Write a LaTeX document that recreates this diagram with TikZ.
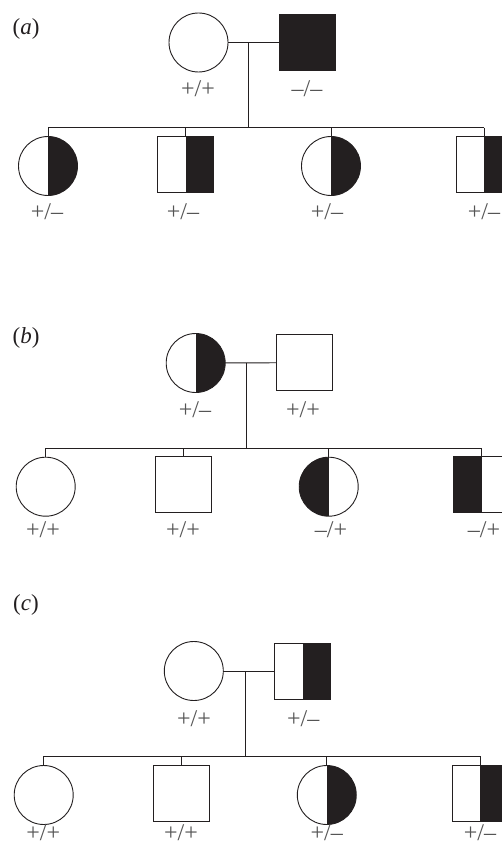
\documentclass[tikz,border=0pt]{standalone}
\usepackage{fontspec}
\setmainfont{Liberation Serif}
\definecolor{ink}{HTML}{231F20}
\definecolor{lab}{HTML}{555555}
\tikzset{
  fem/.style={circle,draw=ink,line width=0.9pt,inner sep=0pt,outer sep=0pt,minimum size=59pt,fill=white},
  mal/.style={rectangle,draw=ink,line width=0.9pt,inner sep=0pt,outer sep=0pt,minimum size=56pt,fill=white},
  full/.style={fill=ink},
  rhalf/.style={path picture={\fill[ink] (path picture bounding box.north) rectangle (path picture bounding box.south east);}},
  lhalf/.style={path picture={\fill[ink] (path picture bounding box.north west) rectangle (path picture bounding box.south);}},
  gt/.style={text=lab,font=\fontsize{24}{24}\selectfont,inner sep=0pt},
  pl/.style={font=\fontsize{23}{23}\selectfont,inner sep=0pt,text=ink},
  ln/.style={draw=ink,line width=0.9pt}
}
\begin{document}
\begin{tikzpicture}[x=1pt,y=-1pt]
\useasboundingbox[fill=white] (0,0) rectangle (502,845);
% ---------- (a)
\node[pl] (la) at (26,29) {(\textit{a})};
\node[fem] (am) at (198.5,42.5) {};
\node[mal,full] (af) at (307,42.5) {};
\node[gt] (aml) at (198,89) {+/+};
\node[gt] (afl) at (307,89) {–/–};
\coordinate (ad) at (248.7,42.5);
\coordinate (as1) at (48,127.7);
\coordinate (as2) at (185.8,127.7);
\coordinate (as3) at (331,127.7);
\coordinate (as4) at (484,127.7);
\node[fem,rhalf] (ac1) at (48,166) {};
\node[mal,rhalf] (ac2) at (185.8,164.5) {};
\node[fem,rhalf] (ac3) at (331,166) {};
\node[mal,rhalf] (ac4) at (484,164.5) {};
\node[gt] (ac1l) at (47,212) {+/–};
\node[gt] (ac2l) at (183,212) {+/–};
\node[gt] (ac3l) at (327,212) {+/–};
\node[gt] (ac4l) at (484,212) {+/–};
\draw[ln] (am) -- (af);
\draw[ln] (ad) -- (ad |- as1);
\draw[ln] (as1) -- (as4);
\draw[ln] (as1) -- (ac1.north);
\draw[ln] (as2) -- (ac2.north);
\draw[ln] (as3) -- (ac3.north);
\draw[ln] (as4) -- (ac4.north);
% ---------- (b)
\node[pl] (lb) at (26,338) {(\textit{b})};
\node[fem,rhalf] (bm) at (195.7,363) {};
\node[mal] (bf) at (304.7,362.7) {};
\node[gt] (bml) at (195,410) {+/–};
\node[gt] (bfl) at (303,410) {+/+};
\coordinate (bd) at (246.7,362.7);
\coordinate (bs1) at (45.7,448.3);
\coordinate (bs2) at (183.3,448.3);
\coordinate (bs3) at (328.7,448.3);
\coordinate (bs4) at (481.7,448.3);
\node[fem] (bc1) at (45.7,486.7) {};
\node[mal] (bc2) at (183.3,484.8) {};
\node[fem,lhalf] (bc3) at (328.7,486.7) {};
\node[mal,lhalf] (bc4) at (481.7,484.8) {};
\node[gt] (bc1l) at (43,530) {+/+};
\node[gt] (bc2l) at (183,530) {+/+};
\node[gt] (bc3l) at (331,530) {–/+};
\node[gt] (bc4l) at (484,530) {–/+};
\draw[ln] (bm) -- (bf);
\draw[ln] (bd) -- (bd |- bs1);
\draw[ln] (bs1) -- (bs4);
\draw[ln] (bs1) -- (bc1.north);
\draw[ln] (bs2) -- (bc2.north);
\draw[ln] (bs3) -- (bc3.north);
\draw[ln] (bs4) -- (bc4.north);
% ---------- (c)
\node[pl] (lc) at (26,605) {(\textit{c})};
\node[fem] (cm) at (193.8,671) {};
\node[mal,rhalf] (cf) at (302.8,671) {};
\node[gt] (cml) at (194,718.3) {+/+};
\node[gt] (cfl) at (303.3,718.3) {+/–};
\coordinate (cd) at (245,671);
\coordinate (cs1) at (43.7,756.3);
\coordinate (cs2) at (181.5,756.3);
\coordinate (cs3) at (326.8,756.3);
\coordinate (cs4) at (480,756.3);
\node[fem] (cc1) at (43.7,795) {};
\node[mal] (cc2) at (181.5,793) {};
\node[fem,rhalf] (cc3) at (326.8,795) {};
\node[mal,rhalf] (cc4) at (480,793) {};
\node[gt] (cc1l) at (43.3,833) {+/+};
\node[gt] (cc2l) at (181,833) {+/+};
\node[gt] (cc3l) at (326.7,833) {+/–};
\node[gt] (cc4l) at (480,833) {+/–};
\draw[ln] (cm) -- (cf);
\draw[ln] (cd) -- (cd |- cs1);
\draw[ln] (cs1) -- (cs4);
\draw[ln] (cs1) -- (cc1.north);
\draw[ln] (cs2) -- (cc2.north);
\draw[ln] (cs3) -- (cc3.north);
\draw[ln] (cs4) -- (cc4.north);
\end{tikzpicture}
\end{document}
